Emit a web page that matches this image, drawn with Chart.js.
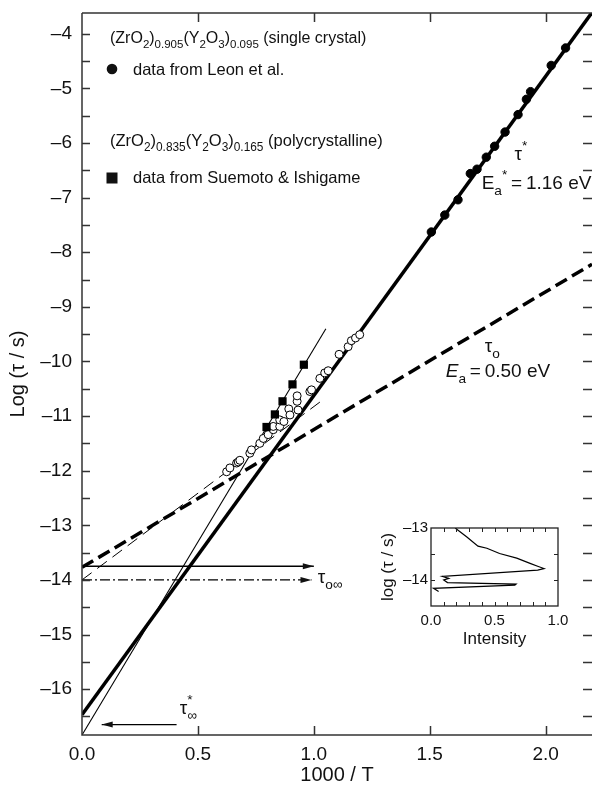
<!DOCTYPE html>
<html>
<head>
<meta charset="utf-8">
<script src="https://cdn.jsdelivr.net/npm/chart.js@4.4.1/dist/chart.umd.min.js"></script>
<style>
  html, body { margin: 0; padding: 0; background: #fff; }
  #wrap { position: relative; width: 592px; height: 786px; }
  #main { position: absolute; left: 0; top: 0; }
  #inset { position: absolute; left: 376px; top: 505px; }
</style>
</head>
<body>
<div id="wrap">
  <canvas id="main" width="592" height="786"></canvas>
  <canvas id="inset" width="200" height="145"></canvas>
</div>
<script>
const FONT = '"Liberation Sans", Arial, Helvetica, sans-serif';
const INK = '#111';

// axis ticks
const xTickValues = [0, 0.5, 1.0, 1.5, 2.0];
const yTickValues = [-4, -5, -6, -7, -8, -9, -10, -11, -12, -13, -14, -15, -16];

// single crystal, Leon et al. (1000/T, log tau)
const leonX = [1.507, 1.565, 1.622, 1.675, 1.704, 1.744, 1.780, 1.825, 1.881, 1.917, 1.935, 2.024, 2.086];
const leonY = [-7.63, -7.32, -7.04, -6.56, -6.48, -6.26, -6.06, -5.80, -5.48, -5.20, -5.06, -4.58, -4.26];

// single crystal, open symbols
const openX = [0.624, 0.638, 0.667, 0.674, 0.681, 0.724, 0.731, 0.767, 0.782, 0.803, 0.825, 0.825, 0.853, 0.853, 0.871,
               0.892, 0.897, 0.928, 0.928, 0.932, 0.983, 0.990, 1.026, 1.047, 1.062, 1.109, 1.148, 1.162, 1.180, 1.198];
const openY = [-12.02, -11.95, -11.86, -11.84, -11.81, -11.68, -11.62, -11.50, -11.41, -11.34, -11.25, -11.19, -11.19, -11.07, -11.10,
               -10.87, -10.98, -10.73, -10.63, -10.89, -10.55, -10.52, -10.31, -10.21, -10.17, -9.87, -9.73, -9.62, -9.57, -9.51];

// polycrystalline, Suemoto & Ishigame
const suemotoX = [0.796, 0.832, 0.865, 0.908, 0.957];
const suemotoY = [-11.20, -10.97, -10.73, -10.42, -10.06];

// Arrhenius fits
const tauStarX = [0, 2.2];      const tauStarY = [-16.47, -3.61];   // Ea* = 1.16 eV
const tauOX = [0, 2.2];         const tauOY = [-13.77, -8.22];      // Ea = 0.50 eV
const thinDashX = [0, 1.04];    const thinDashY = [-14.0, -10.70];
const thinSolidX = [0, 1.052];  const thinSolidY = [-16.84, -9.40];

// limit arrows
const arrowOX = [0, 1.0];       const arrowOY = [-13.75, -13.75];
const arrowO2X = [0, 0.99];     const arrowO2Y = [-14.0, -14.0];
const arrowStarX = [0.408, 0.085]; const arrowStarY = [-16.65, -16.65];

// inset: relaxation time distribution
const insetI = [0.19, 0.28, 0.37, 0.44, 0.54, 0.675, 0.78, 0.845, 0.89, 0.84, 0.09, 0.14, 0.10, 0.13, 0.67, 0.66, 0.02, 0.06];
const insetLogTau = [-13.00, -13.17, -13.35, -13.39, -13.49, -13.58, -13.68, -13.74, -13.78, -13.81, -13.93, -13.97, -14.00, -14.05, -14.08, -14.10, -14.16, -14.22];
const insetXTicks = [0, 0.5, 1.0];
const insetYTicks = [-13, -14];

const pts = (xs, ys) => xs.map((x, i) => ({ x, y: ys[i] }));

const lineSet = (xs, ys, width, dash, order) => ({
  data: pts(xs, ys), showLine: true, pointRadius: 0,
  borderColor: '#000', borderWidth: width, borderDash: dash || [], order,
});

// no extra edge padding, so the plot box is exactly where afterFit puts it
const fixX = h => s => { s.height = h; s.paddingLeft = 0; s.paddingRight = 0; };
const fixY = w => s => { s.width = w; s.paddingTop = 0; s.paddingBottom = 0; };

// draws text runs with sub/superscripts; run = [text, kind, advance]
function drawRich(ctx, x, y, runs, size) {
  let cx = x;
  for (const [text, kind, adv] of runs) {
    let fs = size, dy = 0, style = '';
    if (kind === 'sub') { fs = size * 0.72; dy = size * 0.32; }
    if (kind === 'sup') { fs = size * 0.72; dy = -size * 0.5; }
    if (kind === 'it') style = 'italic ';
    ctx.font = `${style}${fs}px ${FONT}`;
    ctx.fillText(text, cx, y + dy);
    if (adv !== false) cx += ctx.measureText(text).width;
  }
}

function arrowHead(ctx, px, py, dir) {
  ctx.beginPath();
  ctx.moveTo(px, py);
  ctx.lineTo(px - dir * 11, py - 3);
  ctx.lineTo(px - dir * 11, py + 3);
  ctx.closePath();
  ctx.fill();
}

const mainFrame = {
  id: 'mainFrame',
  afterDraw(chart) {
    const { ctx, chartArea: a, scales: { x, y } } = chart;
    ctx.save();
    ctx.strokeStyle = '#333';
    ctx.lineWidth = 1.5;
    ctx.beginPath();
    ctx.moveTo(a.left, a.top); ctx.lineTo(a.right, a.top);
    ctx.moveTo(a.left, a.top); ctx.lineTo(a.left, a.bottom); ctx.lineTo(a.right, a.bottom);
    for (let v = 0.5; v <= 2.2; v += 0.5) {
      const px = Math.round(x.getPixelForValue(v)) + 0.5;
      ctx.moveTo(px, a.bottom); ctx.lineTo(px, a.bottom - 9);
      ctx.moveTo(px, a.top); ctx.lineTo(px, a.top + 9);
    }
    for (let v = -16.5; v <= -3.9; v += 0.5) {
      const py = Math.round(y.getPixelForValue(v)) + 0.5;
      ctx.moveTo(a.left, py); ctx.lineTo(a.left + 8, py);
      ctx.moveTo(a.right, py); ctx.lineTo(a.right - 9, py);
    }
    ctx.stroke();
    ctx.restore();
  }
};

const mainLabels = {
  id: 'mainLabels',
  afterDatasetsDraw(chart) {
    const { ctx, chartArea: a, scales: { x, y } } = chart;
    ctx.save();
    ctx.fillStyle = INK;
    ctx.textBaseline = 'alphabetic';
    ctx.textAlign = 'left';

    // legend block
    drawRich(ctx, a.left + 28, a.top + 30, [['(ZrO'], ['2', 'sub'], [')'], ['0.905', 'sub'], ['(Y'], ['2', 'sub'], ['O'], ['3', 'sub'], [')'], ['0.095', 'sub'], [' (single crystal)']], 16);
    ctx.beginPath(); ctx.arc(a.left + 30, a.top + 56, 5.3, 0, Math.PI * 2); ctx.fill();
    drawRich(ctx, a.left + 51, a.top + 62, [['data from Leon et al.']], 16.5);
    drawRich(ctx, a.left + 28, a.top + 133, [['(ZrO'], ['2', 'sub'], [')'], ['0.835', 'sub'], ['(Y'], ['2', 'sub'], ['O'], ['3', 'sub'], [')'], ['0.165', 'sub'], [' (polycrystalline)']], 16.5);
    ctx.fillRect(a.left + 24.5, a.top + 159.5, 11, 11);
    drawRich(ctx, a.left + 51, a.top + 170, [['data from Suemoto & Ishigame']], 16.5);

    // fit annotations
    const at = (vx, vy) => [x.getPixelForValue(vx), y.getPixelForValue(vy)];
    let p = at(1.866, -6.31);
    drawRich(ctx, p[0], p[1], [['τ'], ['*', 'sup']], 19);
    p = at(1.724, -6.84);
    drawRich(ctx, p[0], p[1], [['E'], ['a', 'sub', false], ['  *', 'sup'], ['\u2009=\u2009'], ['1.16 eV']], 19);
    p = at(1.737, -9.82);
    drawRich(ctx, p[0], p[1], [['τ'], ['o', 'sub']], 19);
    p = at(1.569, -10.28);
    drawRich(ctx, p[0], p[1], [['E', 'it'], ['a', 'sub'], ['\u2009=\u2009'], ['0.50 eV']], 19);
    p = at(1.017, -14.05);
    drawRich(ctx, p[0], p[1], [['τ'], ['o∞', 'sub']], 19);
    p = at(0.422, -16.45);
    drawRich(ctx, p[0], p[1], [['τ'], ['*', 'sup', false], ['∞', 'sub']], 19);

    // arrow heads
    arrowHead(ctx, x.getPixelForValue(arrowOX[1]), y.getPixelForValue(arrowOY[1]), 1);
    arrowHead(ctx, x.getPixelForValue(arrowO2X[1]), y.getPixelForValue(arrowO2Y[1]), 1);
    arrowHead(ctx, x.getPixelForValue(arrowStarX[1]), y.getPixelForValue(arrowStarY[1]), -1);
    ctx.restore();
  }
};

new Chart(document.getElementById('main'), {
  type: 'scatter',
  data: {
    datasets: [
      { data: pts(leonX, leonY), pointStyle: 'circle', pointRadius: 4.2, pointBackgroundColor: '#000', pointBorderColor: '#000', order: 0 },
      { data: pts(suemotoX, suemotoY), pointStyle: 'rect', pointRadius: 5.8, pointBackgroundColor: '#000', pointBorderColor: '#000', pointBorderWidth: 0, order: 0 },
      { data: pts(openX, openY), pointStyle: 'circle', pointRadius: 4, pointBackgroundColor: '#fff', pointBorderColor: '#000', pointBorderWidth: 1, order: 1 },
      lineSet(tauStarX, tauStarY, 3.5, null, 2),
      lineSet(tauOX, tauOY, 3.5, [13, 6], 3),
      lineSet(thinDashX, thinDashY, 1, [12, 7], 4),
      lineSet(thinSolidX, thinSolidY, 1.1, null, 4),
      lineSet(arrowOX, arrowOY, 1.3, null, 5),
      lineSet(arrowO2X, arrowO2Y, 1.3, [10, 3, 2, 3], 5),
      lineSet(arrowStarX, arrowStarY, 1.3, null, 5),
    ]
  },
  options: {
    responsive: false, animation: false, events: [],
    layout: { autoPadding: false, padding: { top: 13, right: 0, left: 0, bottom: 0 } },
    plugins: { legend: { display: false }, tooltip: { enabled: false } },
    scales: {
      x: {
        type: 'linear', min: 0, max: 2.2,
        afterBuildTicks: s => { s.ticks = xTickValues.map(v => ({ value: v })); },
        afterFit: fixX(51),
        grid: { display: false, drawTicks: false }, border: { display: false },
        ticks: { font: { family: FONT, size: 19 }, color: INK, padding: 8, callback: v => Number(v).toFixed(1) },
        title: { display: true, text: '1000 / T', font: { family: FONT, size: 20 }, color: INK, padding: { top: 0, bottom: -1 } }
      },
      y: {
        type: 'linear', min: -16.84, max: -3.62,
        afterBuildTicks: s => { s.ticks = yTickValues.map(v => ({ value: v })); },
        afterFit: fixY(82),
        grid: { display: false, drawTicks: false }, border: { display: false },
        ticks: { font: { family: FONT, size: 19 }, color: INK, padding: 10, callback: v => '\u2013' + Math.abs(v) },
        title: { display: true, text: 'Log (τ / s)', font: { family: FONT, size: 20 }, color: INK, padding: { top: 6, bottom: 0 } }
      }
    }
  },
  plugins: [mainFrame, mainLabels]
});

const insetFrame = {
  id: 'insetFrame',
  afterDraw(chart) {
    const { ctx, chartArea: a, scales: { x, y } } = chart;
    ctx.save();
    ctx.strokeStyle = '#222';
    ctx.lineWidth = 1.3;
    ctx.strokeRect(a.left, a.top, a.right - a.left, a.bottom - a.top);
    ctx.lineWidth = 1;
    ctx.beginPath();
    for (let k = 1; k < 10; k++) {
      const px = Math.round(x.getPixelForValue(k / 10)) + 0.5;
      ctx.moveTo(px, a.bottom); ctx.lineTo(px, a.bottom - 4);
      ctx.moveTo(px, a.top); ctx.lineTo(px, a.top + 4);
    }
    for (const v of [-13.5, -14]) {
      const py = Math.round(y.getPixelForValue(v)) + 0.5;
      ctx.moveTo(a.left, py); ctx.lineTo(a.left + 4, py);
      ctx.moveTo(a.right, py); ctx.lineTo(a.right - 4, py);
    }
    ctx.stroke();
    ctx.restore();
  }
};

new Chart(document.getElementById('inset'), {
  type: 'scatter',
  data: {
    datasets: [{
      data: pts(insetI, insetLogTau), showLine: true, pointRadius: 0,
      borderColor: '#000', borderWidth: 1.2, tension: 0
    }]
  },
  options: {
    responsive: false, animation: false, events: [],
    layout: { autoPadding: false, padding: { top: 23, right: 18, left: 0, bottom: 0 } },
    plugins: { legend: { display: false }, tooltip: { enabled: false } },
    scales: {
      x: {
        type: 'linear', min: 0, max: 1,
        afterBuildTicks: s => { s.ticks = insetXTicks.map(v => ({ value: v })); },
        afterFit: fixX(44),
        grid: { display: false, drawTicks: false }, border: { display: false },
        ticks: { font: { family: FONT, size: 15 }, color: INK, padding: 6, callback: v => Number(v).toFixed(1) },
        title: { display: true, text: 'Intensity', font: { family: FONT, size: 17 }, color: INK, padding: { top: 0, bottom: 0 } }
      },
      y: {
        type: 'linear', min: -14.5, max: -13,
        afterBuildTicks: s => { s.ticks = insetYTicks.map(v => ({ value: v })); },
        afterFit: fixY(55),
        grid: { display: false, drawTicks: false }, border: { display: false },
        ticks: { font: { family: FONT, size: 15 }, color: INK, padding: 3, callback: v => '\u2013' + Math.abs(v) },
        title: { display: true, text: 'log (τ / s)', font: { family: FONT, size: 17 }, color: INK, padding: { top: 2, bottom: 0 } }
      }
    }
  },
  plugins: [insetFrame]
});
</script>
</body>
</html>
